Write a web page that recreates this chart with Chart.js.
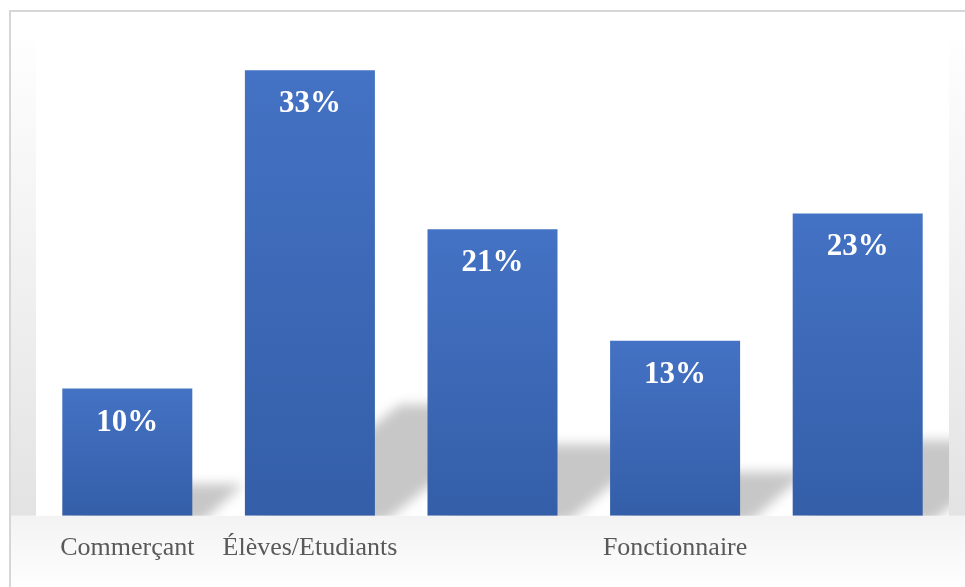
<!DOCTYPE html>
<html>
<head>
<meta charset="utf-8">
<script src="https://cdn.jsdelivr.net/npm/chart.js@4"></script>
<style>
    body { margin: 0; background: #fff; }
    #wrap { width: 965px; height: 587px; }
</style>
</head>
<body>
<div id="wrap"><canvas id="chart" width="965" height="587"></canvas></div>
<script>
// categories (3rd and 5th names are not shown on the axis)
const categories = ['Commerçant', 'Élèves/Etudiants', '', 'Fonctionnaire', ''];
// share of respondents, %
const shares = [9.52, 33.33, 21.43, 13.10, 22.62];
const shareLabels = shares.map(v => Math.round(v) + '%');

// grey frame + white plot area behind the chart
const framePlugin = {
    id: 'frame',
    beforeDraw(chart) {
        const { ctx, chartArea: a, width, height } = chart;
        ctx.save();
        ctx.fillStyle = '#ffffff';
        ctx.fillRect(0, 0, width, height);

        // side bands get darker towards the bottom
        let g = ctx.createLinearGradient(0, a.top - 8, 0, a.bottom);
        g.addColorStop(0, '#fefefe');
        g.addColorStop(1, '#e3e3e3');
        ctx.fillStyle = g;
        ctx.fillRect(11, a.top - 8, a.left - 11, a.bottom - a.top + 8);
        ctx.fillRect(a.right, a.top - 8, width - a.right, a.bottom - a.top + 8);

        // bottom band fades to white
        g = ctx.createLinearGradient(0, a.bottom, 0, height);
        g.addColorStop(0, '#f3f3f3');
        g.addColorStop(1, '#fefefe');
        ctx.fillStyle = g;
        ctx.fillRect(11, a.bottom, width - 11, height - a.bottom);

        // outer border (left + top)
        ctx.strokeStyle = '#d6d6d6';
        ctx.lineWidth = 2;
        ctx.beginPath();
        ctx.moveTo(10, height);
        ctx.lineTo(10, 11);
        ctx.lineTo(width, 11);
        ctx.stroke();
        ctx.restore();
    },
    beforeDatasetsDraw(chart) {
        // soft slanted shadows behind the bars
        const { ctx, chartArea: a } = chart;
        const bars = chart.getDatasetMeta(0).data;
        ctx.save();
        ctx.beginPath();
        ctx.rect(a.left, a.top, a.right - a.left, a.bottom - a.top);
        ctx.clip();
        ctx.filter = 'blur(6px)';
        ctx.fillStyle = 'rgba(0,0,0,0.22)';
        bars.forEach(bar => {
            const half = bar.width / 2;
            const base = bar.base;
            const hs = (base - bar.y) * 0.25;
            const skew = hs * 1.3;
            const d = 10;
            ctx.beginPath();
            ctx.moveTo(bar.x - half + d, base + 6);
            ctx.lineTo(bar.x + half + d, base + 6);
            ctx.lineTo(bar.x + half + d + skew, base - hs);
            ctx.lineTo(bar.x - half + d + skew, base - hs);
            ctx.closePath();
            ctx.fill();
        });
        ctx.restore();
    },
    afterDatasetsDraw(chart) {
        const { ctx } = chart;
        const bars = chart.getDatasetMeta(0).data;
        ctx.save();
        ctx.fillStyle = '#ffffff';
        ctx.font = 'bold 31px "Liberation Serif"';
        ctx.textAlign = 'center';
        ctx.textBaseline = 'middle';
        bars.forEach((bar, i) => {
            ctx.fillText(shareLabels[i], bar.x, bar.y + 34);
        });
        ctx.restore();
    }
};

function barGradient(context) {
    const chart = context.chart;
    const a = chart.chartArea;
    if (!a || context.type !== 'data') return '#4472c4';
    const top = chart.scales.y.getPixelForValue(context.raw);
    const g = chart.ctx.createLinearGradient(0, top, 0, a.bottom);
    g.addColorStop(0, '#4472c4');
    g.addColorStop(1, '#345ea8');
    return g;
}

const config = {
    type: 'bar',
    data: {
        labels: categories,
        datasets: [{
            data: shares,
            backgroundColor: barGradient,
            borderWidth: 0,
            categoryPercentage: 1,
            barPercentage: 0.712
        }]
    },
    options: {
        responsive: false,
        animation: false,
        layout: {
            padding: { left: 36, right: 16, top: 48, bottom: 14 }
        },
        plugins: {
            legend: { display: false },
            tooltip: { enabled: false }
        },
        scales: {
            x: {
                grid: { display: false },
                border: { display: false },
                ticks: {
                    autoSkip: false,
                    maxRotation: 0,
                    padding: 9,
                    color: '#595959',
                    font: { family: '"Liberation Serif"', size: 26 }
                }
            },
            y: {
                display: false,
                min: 0,
                max: 35
            }
        }
    },
    plugins: [framePlugin]
};

const ctx = document.getElementById('chart').getContext('2d');
new Chart(ctx, config);
</script>
</body>
</html>
